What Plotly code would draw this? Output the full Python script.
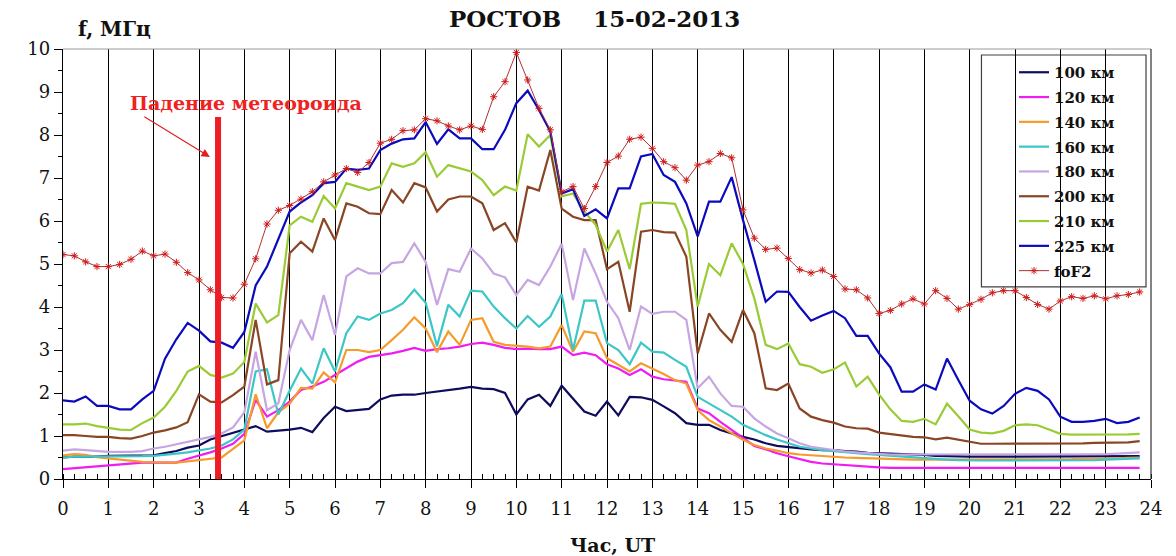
import numpy as np
import plotly.graph_objects as go

# 15-minute sampling over the day, UT hours
HOURS = np.arange(0, 24, 0.25)

H100 = [0.50, 0.52, 0.52, 0.52, 0.54, 0.54, 0.54, 0.55, 0.55, 0.60, 0.65, 0.73, 0.78, 0.92, 1.00, 1.07,
        1.15, 1.23, 1.10, 1.12, 1.15, 1.19, 1.09, 1.42, 1.68, 1.58, 1.60, 1.63, 1.85, 1.94, 1.96, 1.96,
        2.00, 2.03, 2.06, 2.10, 2.14, 2.10, 2.09, 2.00, 1.50, 1.85, 1.96, 1.70, 2.17, 1.86, 1.57, 1.47,
        1.80, 1.48, 1.91, 1.90, 1.84, 1.69, 1.53, 1.30, 1.26, 1.26, 1.14, 1.06, 0.98, 0.92, 0.83, 0.77,
        0.74, 0.71, 0.69, 0.67, 0.67, 0.65, 0.64, 0.61, 0.60, 0.60, 0.58, 0.57, 0.56, 0.54, 0.53, 0.52,
        0.52, 0.52, 0.52, 0.52, 0.52, 0.52, 0.52, 0.52, 0.52, 0.52, 0.52, 0.52, 0.52, 0.52, 0.52, 0.53]

H120 = [0.23, 0.25, 0.27, 0.29, 0.31, 0.34, 0.36, 0.38, 0.38, 0.38, 0.38, 0.47, 0.54, 0.62, 0.71, 0.82,
        1.05, 1.84, 1.45, 1.60, 1.80, 2.07, 2.15, 2.26, 2.42, 2.57, 2.73, 2.84, 2.88, 2.92, 2.98, 3.05,
        2.98, 3.02, 3.04, 3.08, 3.14, 3.17, 3.12, 3.05, 3.02, 3.03, 3.02, 3.02, 3.08, 2.88, 2.94, 2.88,
        2.67, 2.57, 2.42, 2.55, 2.38, 2.32, 2.29, 2.26, 1.64, 1.53, 1.33, 1.14, 0.95, 0.77, 0.69, 0.60,
        0.53, 0.46, 0.40, 0.36, 0.34, 0.32, 0.30, 0.28, 0.27, 0.26, 0.26, 0.26, 0.26, 0.26, 0.26, 0.26,
        0.26, 0.26, 0.26, 0.26, 0.26, 0.26, 0.26, 0.26, 0.26, 0.26, 0.26, 0.26, 0.26, 0.26, 0.26, 0.26]

H140 = [0.55, 0.58, 0.56, 0.51, 0.48, 0.45, 0.42, 0.40, 0.39, 0.38, 0.38, 0.41, 0.44, 0.46, 0.50, 0.70,
        0.90, 1.97, 1.18, 1.55, 1.75, 2.12, 2.10, 2.48, 2.25, 3.00, 3.00, 2.95, 3.00, 3.23, 3.47, 3.76,
        3.50, 2.95, 3.43, 3.12, 3.70, 3.74, 3.19, 3.12, 3.10, 3.08, 3.04, 3.08, 3.58, 2.96, 3.43, 3.39,
        2.81, 2.65, 2.50, 2.69, 2.57, 2.44, 2.30, 2.22, 1.60, 1.37, 1.22, 1.06, 0.91, 0.79, 0.71, 0.66,
        0.60, 0.57, 0.55, 0.53, 0.51, 0.50, 0.49, 0.48, 0.47, 0.46, 0.45, 0.45, 0.45, 0.45, 0.45, 0.45,
        0.45, 0.45, 0.45, 0.45, 0.45, 0.45, 0.46, 0.46, 0.46, 0.46, 0.47, 0.47, 0.48, 0.48, 0.49, 0.50]

H160 = [0.50, 0.52, 0.52, 0.52, 0.52, 0.52, 0.52, 0.53, 0.54, 0.56, 0.59, 0.62, 0.66, 0.71, 0.78, 0.92,
        1.15, 2.50, 2.55, 1.50, 2.05, 2.57, 2.22, 3.04, 2.50, 3.39, 3.78, 3.70, 3.85, 3.93, 4.09, 4.40,
        4.10, 3.09, 4.05, 3.78, 4.38, 4.36, 4.01, 3.74, 3.50, 3.79, 3.54, 3.78, 4.30, 3.00, 4.15, 4.15,
        3.16, 3.00, 2.67, 3.17, 2.96, 2.94, 2.77, 2.61, 1.91, 1.76, 1.60, 1.45, 1.26, 1.14, 1.02, 0.92,
        0.83, 0.75, 0.71, 0.67, 0.65, 0.62, 0.60, 0.58, 0.56, 0.54, 0.52, 0.50, 0.48, 0.46, 0.45, 0.44,
        0.43, 0.43, 0.43, 0.43, 0.43, 0.43, 0.43, 0.43, 0.43, 0.44, 0.44, 0.44, 0.45, 0.46, 0.47, 0.48]

H180 = [0.66, 0.69, 0.67, 0.65, 0.63, 0.63, 0.63, 0.65, 0.71, 0.75, 0.81, 0.86, 0.92, 0.98, 1.06, 1.20,
        1.55, 2.96, 1.60, 1.76, 3.00, 3.70, 3.23, 4.28, 3.35, 4.71, 4.90, 4.78, 4.78, 5.02, 5.05, 5.48,
        5.05, 4.05, 4.88, 4.82, 5.36, 5.13, 4.78, 4.69, 4.28, 4.63, 4.51, 4.94, 5.47, 4.16, 5.36, 4.78,
        4.12, 3.74, 3.00, 4.01, 3.84, 3.89, 3.89, 3.70, 2.11, 2.38, 1.99, 1.70, 1.68, 1.41, 1.22, 1.06,
        0.95, 0.83, 0.75, 0.71, 0.67, 0.64, 0.62, 0.60, 0.58, 0.57, 0.57, 0.57, 0.57, 0.57, 0.57, 0.57,
        0.57, 0.57, 0.57, 0.57, 0.57, 0.57, 0.57, 0.57, 0.57, 0.57, 0.58, 0.58, 0.58, 0.59, 0.60, 0.62]

H200 = [1.02, 1.02, 1.00, 0.98, 0.98, 0.95, 0.94, 1.00, 1.08, 1.13, 1.20, 1.32, 1.97, 1.80, 1.78, 1.95,
        2.15, 3.70, 2.20, 2.30, 5.25, 5.52, 5.29, 6.06, 5.56, 6.41, 6.33, 6.18, 6.16, 6.72, 6.43, 6.88,
        6.78, 6.22, 6.50, 6.57, 6.57, 6.41, 5.79, 5.95, 5.50, 6.80, 6.71, 7.65, 6.29, 6.10, 6.02, 6.02,
        4.88, 5.05, 3.89, 5.75, 5.79, 5.74, 5.73, 5.17, 2.92, 3.85, 3.47, 3.19, 3.93, 3.39, 2.11, 2.07,
        2.22, 1.64, 1.45, 1.37, 1.31, 1.22, 1.18, 1.17, 1.08, 1.05, 1.02, 0.98, 0.97, 0.92, 0.96, 0.91,
        0.86, 0.82, 0.82, 0.82, 0.82, 0.82, 0.82, 0.82, 0.83, 0.83, 0.83, 0.84, 0.84, 0.85, 0.85, 0.88]

H210 = [1.27, 1.27, 1.29, 1.23, 1.19, 1.15, 1.14, 1.30, 1.43, 1.68, 2.05, 2.50, 2.63, 2.42, 2.36, 2.45,
        2.72, 4.08, 3.64, 3.81, 5.90, 6.10, 5.98, 6.58, 6.29, 6.88, 6.80, 6.72, 6.80, 7.34, 7.26, 7.34,
        7.60, 7.03, 7.30, 7.22, 7.15, 6.95, 6.60, 6.80, 6.71, 8.02, 7.73, 8.00, 6.57, 6.64, 6.22, 5.91,
        5.29, 5.79, 4.88, 6.40, 6.43, 6.42, 6.40, 5.79, 4.01, 5.00, 4.74, 5.48, 5.00, 4.20, 3.12, 3.02,
        3.15, 2.67, 2.61, 2.47, 2.55, 2.71, 2.15, 2.38, 1.97, 1.62, 1.35, 1.33, 1.40, 1.27, 1.75, 1.46,
        1.15, 1.08, 1.06, 1.12, 1.25, 1.27, 1.25, 1.15, 1.05, 1.03, 1.03, 1.03, 1.03, 1.03, 1.04, 1.05]

H225 = [1.83, 1.80, 1.92, 1.70, 1.70, 1.62, 1.62, 1.85, 2.05, 2.80, 3.25, 3.63, 3.45, 3.20, 3.17, 3.05,
        3.42, 4.50, 4.94, 5.60, 6.22, 6.43, 6.60, 6.88, 6.91, 7.22, 7.19, 7.22, 7.65, 7.80, 7.90, 7.92,
        8.30, 7.79, 8.13, 7.92, 7.92, 7.67, 7.67, 8.12, 8.74, 9.03, 8.58, 8.08, 6.64, 6.74, 6.12, 6.27,
        6.06, 6.76, 6.76, 7.50, 7.56, 7.07, 6.91, 6.41, 5.64, 6.45, 6.45, 7.02, 6.02, 5.09, 4.12, 4.36,
        4.35, 4.00, 3.68, 3.80, 3.91, 3.74, 3.33, 3.33, 2.92, 2.60, 2.03, 2.03, 2.20, 2.08, 2.80, 2.30,
        1.82, 1.62, 1.52, 1.70, 1.98, 2.12, 2.05, 1.85, 1.45, 1.33, 1.33, 1.35, 1.40, 1.30, 1.33, 1.43]

FOF2 = [5.22, 5.19, 5.05, 4.94, 4.94, 4.99, 5.11, 5.30, 5.19, 5.23, 5.04, 4.80, 4.63, 4.40, 4.22, 4.21,
        4.53, 5.12, 5.93, 6.25, 6.36, 6.51, 6.68, 6.91, 7.07, 7.22, 7.13, 7.36, 7.81, 7.90, 8.10, 8.12,
        8.38, 8.33, 8.21, 8.12, 8.21, 8.13, 8.89, 9.24, 9.92, 9.28, 8.62, 8.12, 6.68, 6.80, 6.29, 6.80,
        7.36, 7.51, 7.90, 7.95, 7.69, 7.38, 7.24, 6.95, 7.30, 7.38, 7.57, 7.47, 6.26, 5.60, 5.34, 5.37,
        5.13, 4.87, 4.79, 4.86, 4.71, 4.42, 4.40, 4.21, 3.85, 3.92, 4.07, 4.19, 4.07, 4.38, 4.20, 3.95,
        4.06, 4.18, 4.33, 4.38, 4.38, 4.22, 4.06, 3.95, 4.14, 4.24, 4.20, 4.26, 4.19, 4.26, 4.29, 4.35]

SERIES_NAMES = ["100 км", "120 км", "140 км", "160 км", "180 км", "200 км", "210 км", "225 км"]
SERIES_VALUES = [H100, H120, H140, H160, H180, H200, H210, H225]
SERIES_COLORS = ["#0d0d5c", "#f01cf0", "#f79a2c", "#3cc6c6", "#c6a6e2", "#8a4524", "#9acb35", "#0b0bbd"]

METEOR_HOUR = 3.42
METEOR_TOP = 8.42

SERIF = "DejaVu Serif"

fig = go.Figure()

for name, vals, color in zip(SERIES_NAMES, SERIES_VALUES, SERIES_COLORS):
    fig.add_trace(go.Scatter(
        x=HOURS, y=vals, name=name, mode="lines",
        line=dict(color=color, width=2.2),
        legendgroup=name,
    ))

fig.add_trace(go.Scatter(
    x=HOURS, y=FOF2, name="foF2", mode="lines+markers",
    line=dict(color="#b03030", width=1),
    marker=dict(symbol="asterisk-open", size=6, color="#d01818",
                line=dict(color="#d01818", width=1)),
    legendgroup="foF2",
))

shapes = [
    # white panel behind the event caption
    dict(type="rect", xref="x", yref="y", x0=1.7, x1=8.35, y0=8.47, y1=9.9,
         fillcolor="white", line=dict(width=0), layer="below"),
    # legend frame
    dict(type="rect", xref="x", yref="y", x0=20.26, x1=23.89, y0=4.47, y1=9.86,
         fillcolor="white", line=dict(color="#404040", width=1.2), layer="below"),
    # plot frame: top and right edges
    dict(type="line", xref="paper", yref="paper", x0=0, x1=1, y0=1, y1=1,
         line=dict(color="#9a9a9a", width=1.2)),
    dict(type="line", xref="paper", yref="paper", x0=1, x1=1, y0=0, y1=1,
         line=dict(color="#303030", width=1.2)),
    # moment of the meteoroid fall
    dict(type="line", xref="x", yref="y", x0=METEOR_HOUR, x1=METEOR_HOUR, y0=0, y1=METEOR_TOP,
         line=dict(color="#ee1c24", width=6), layer="above"),
]

annotations = [
    dict(text="<b>РОСТОВ\u00a0\u00a0\u00a0\u00a015-02-2013</b>", xref="paper", yref="paper",
         x=(594 - 63) / 1088, y=(479 - 18) / 430, xanchor="center", yanchor="middle",
         showarrow=False, font=dict(family=SERIF, size=23, color="#111")),
    dict(text="<b>f, МГц</b>", xref="paper", yref="paper",
         x=(114 - 63) / 1088, y=(479 - 29) / 430, xanchor="center", yanchor="middle",
         showarrow=False, font=dict(family=SERIF, size=20, color="#111")),
    dict(text="<b>Час, UT</b>", xref="paper", yref="paper",
         x=(612 - 63) / 1088, y=(479 - 545) / 430, xanchor="center", yanchor="middle",
         showarrow=False, font=dict(family=SERIF, size=19, color="#111")),
    dict(text="<b>Падение метеороида</b>", xref="x", yref="y",
         x=4.04, y=8.74, xanchor="center", yanchor="middle", showarrow=False,
         font=dict(family=SERIF, size=19, color="#ee2222")),
    dict(text="", xref="x", yref="y", x=3.24, y=7.49, ax=-67, ay=-41,
         showarrow=True, arrowhead=2, arrowsize=1.4, arrowwidth=1.2, arrowcolor="#e02020"),
]

fig.update_layout(
    width=1176, height=556,
    margin=dict(l=63, r=25, t=49, b=77),
    paper_bgcolor="white", plot_bgcolor="white",
    font=dict(family=SERIF, color="#111"),
    showlegend=True,
    legend=dict(
        x=(1014 - 63) / 1088, y=(479 - 56) / 430, xanchor="left", yanchor="top",
        bgcolor="rgba(0,0,0,0)", borderwidth=0,
        font=dict(family=SERIF, size=15, color="#111", weight="bold"),
        tracegroupgap=2.3, traceorder="grouped",
    ),
    shapes=shapes,
    annotations=annotations,
    xaxis=dict(
        range=[0, 24], dtick=1, tick0=0,
        showline=True, linecolor="black", linewidth=1.3,
        ticks="outside", ticklen=8, tickcolor="black", tickwidth=1.2,
        showgrid=True, gridcolor="black", gridwidth=1,
        zeroline=False,
        minor=dict(dtick=0.25, ticks="inside", ticklen=5, tickcolor="black", showgrid=False),
        tickfont=dict(family=SERIF, size=18, color="#111"),
        ticklabelstandoff=5,
    ),
    yaxis=dict(
        range=[0, 10], dtick=1, tick0=0,
        showline=True, linecolor="black", linewidth=1.3,
        ticks="outside", ticklen=8, tickcolor="black", tickwidth=1.2,
        showgrid=False, zeroline=False,
        minor=dict(dtick=0.5, ticks="outside", ticklen=4, tickcolor="black", showgrid=False),
        tickfont=dict(family=SERIF, size=18, color="#111"),
    ),
)

fig.write_html("out.html")
